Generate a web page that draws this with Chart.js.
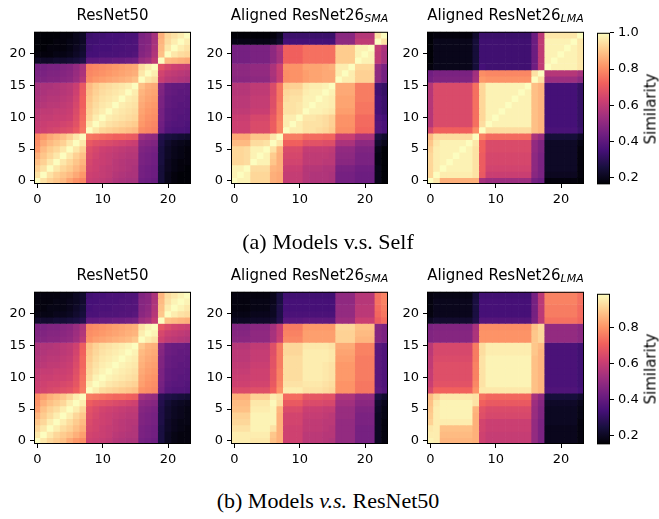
<!DOCTYPE html>
<html>
<head>
<meta charset="utf-8">
<script src="https://cdn.jsdelivr.net/npm/chart.js@4.4.0/dist/chart.umd.min.js"></script>
<style>
  body { margin: 0; background: #fff; }
  #fig { position: relative; width: 659px; height: 519px; overflow: hidden; background: #fff; font-family: "DejaVu Sans"; }
  #fig canvas { position: absolute; }
  .ttl { position: absolute; width: 300px; text-align: center; font-size: 15px; line-height: 15px; white-space: nowrap; color: #000; }
  .ttl i { font-size: 11px; position: relative; top: 2px; }
  .cap { position: absolute; width: 440px; text-align: center; font-family: "Liberation Serif"; font-size: 22px; line-height: 22px; white-space: nowrap; color: #000; }
  .cbl { position: absolute; font-size: 15px; line-height: 15px; white-space: nowrap; transform: translate(-50%, -50%) rotate(-90deg); color: #000; }
</style>
</head>
<body>
<div id="fig"></div>
<script>
// tick labels
const xTicks = [0, 10, 20];
const yTicks = [0, 5, 10, 15, 20];
const cbTicks = [0.2, 0.4, 0.6, 0.8, 1.0];
// colour limits of the two colorbars (top row, bottom row)
const rowLimits = [[0.165, 1.0], [0.152, 0.989]];

const titles = ['ResNet50', 'Aligned ResNet26', 'Aligned ResNet26'];
const subs = ['', 'SMA', 'LMA'];
const captions = ['(a) Models v.s. Self', '(b) Models <i>v.s.</i> ResNet50'];

// similarity x100, one row per layer on the y axis (row 0 = bottom)
const resnet50 = [
  [100,95,92,90,88,84,81,79, 62,61,60,59,57,56,55,55, 44,43,42, 25,20,18,17,17],
  [95,100,95,92,90,88,85,82, 63,62,61,60,58,57,56,56, 45,44,43, 25,20,18,17,17],
  [92,95,100,96,93,91,88,85, 64,63,61,60,59,58,57,56, 45,44,43, 25,21,19,18,17],
  [89,92,96,100,96,93,90,87, 65,63,62,61,59,58,57,57, 46,45,44, 26,21,19,18,18],
  [86,90,93,96,100,96,92,89, 66,64,62,61,60,59,58,58, 46,45,44, 26,22,20,19,18],
  [82,88,91,93,96,100,96,92, 67,65,63,62,61,60,59,59, 47,46,45, 26,22,20,19,18],
  [80,85,88,90,92,96,100,96, 70,68,67,66,65,64,63,62, 49,48,47, 27,23,21,20,19],
  [79,82,85,87,89,92,96,100, 76,75,74,73,72,72,71,70, 53,51,50, 28,26,25,24,23],
  [62,63,64,65,66,67,70,76, 100,96,93,92,91,90,89,88, 80,79,78, 43,38,37,37,36],
  [61,62,63,63,64,65,68,75, 96,100,97,95,94,93,92,91, 82,80,79, 44,39,38,38,37],
  [60,61,61,62,62,63,67,74, 93,97,100,97,96,95,94,93, 83,81,80, 45,40,39,38,38],
  [59,60,60,61,61,62,66,73, 92,95,97,100,97,96,95,94, 84,82,81, 45,40,39,39,38],
  [57,58,59,59,60,61,65,72, 91,94,96,97,100,97,96,95, 85,83,82, 46,41,40,39,39],
  [56,57,58,58,59,60,64,72, 90,93,95,96,97,100,97,96, 86,84,83, 46,41,40,40,39],
  [55,56,57,57,58,59,63,71, 89,92,94,95,96,97,100,97, 87,85,84, 47,42,41,40,40],
  [55,56,56,57,58,59,62,70, 88,91,93,94,95,96,97,100, 89,86,85, 48,42,41,41,40],
  [47,47,48,48,49,50,53,58, 80,82,83,84,85,86,87,89, 100,96,94, 62,59,58,57,56],
  [46,46,47,47,48,49,52,56, 79,80,81,82,83,84,85,86, 96,100,97, 64,61,60,59,58],
  [45,45,46,46,47,48,51,55, 78,79,80,81,82,83,84,85, 94,97,100, 68,65,63,62,61],
  [22,22,22,23,23,24,25,27, 40,40,41,41,42,42,43,44, 52,54,60, 100,88,87,86,85],
  [18,18,18,19,19,20,22,24, 35,35,36,36,36,37,37,38, 48,50,57, 89,100,96,94,93],
  [17,17,18,18,18,19,21,23, 34,35,35,35,36,36,37,37, 47,49,56, 88,96,100,97,95],
  [17,17,17,18,18,19,20,22, 34,34,35,35,35,36,36,37, 47,48,55, 87,94,97,100,97],
  [17,17,17,17,18,18,20,22, 33,34,34,35,35,35,36,36, 46,48,55, 86,93,95,97,100]
];

const smaSelf = [
  [100,98,98, 93,93,93, 86, 85, 61,61,61, 58,57,57,57,56, 45,45,45, 43,43,43, 20,17],
  [98,100,98, 93,93,93, 86, 85, 61,61,61, 58,57,57,57,56, 45,45,45, 43,43,43, 20,17],
  [98,98,100, 94,94,94, 87, 86, 62,62,62, 58,58,58,57,57, 46,46,46, 44,44,44, 20,17],
  [93,93,94, 100,98,98, 90, 86, 64,64,64, 60,60,60,59,59, 49,49,49, 46,46,46, 19,17],
  [93,93,94, 98,100,98, 91, 86, 65,65,65, 60,60,60,60,59, 50,50,50, 46,46,46, 19,17],
  [93,93,94, 98,98,100, 95, 87, 66,66,66, 61,61,61,61,60, 51,51,51, 47,47,47, 20,17],
  [88,88,88, 94,94,95, 100, 96, 72,72,72, 68,68,68,67,67, 56,56,56, 50,50,50, 23,20],
  [85,85,85, 90,90,90, 96, 100, 77,77,77, 74,74,74,73,73, 62,62,62, 56,56,56, 26,23],
  [63,63,63, 66,66,66, 71, 79, 100,97,97, 95,95,94,93,91, 80,80,80, 73,73,73, 38,36],
  [63,63,63, 66,66,66, 71, 79, 97,100,97, 95,95,95,94,92, 81,81,81, 74,74,74, 38,36],
  [62,62,62, 65,65,65, 70, 78, 97,97,100, 96,96,95,94,92, 81,81,81, 74,74,74, 37,35],
  [60,60,60, 62,62,62, 68, 77, 95,95,96, 100,98,98,97,96, 83,83,83, 76,76,76, 35,33],
  [59,59,59, 61,61,61, 67, 77, 95,95,96, 98,100,98,98,97, 84,84,84, 76,76,76, 35,33],
  [59,59,59, 61,61,61, 67, 76, 94,95,95, 98,98,100,98,97, 84,84,84, 77,77,77, 35,33],
  [58,58,58, 60,60,60, 66, 76, 93,94,94, 97,98,98,100,98, 85,85,85, 77,77,77, 34,32],
  [58,58,58, 60,60,60, 66, 76, 91,92,92, 96,97,97,98,100, 85,85,85, 77,77,77, 34,32],
  [49,49,49, 50,50,50, 55, 62, 80,81,81, 83,84,84,85,85, 100,97,97, 92,92,92, 50,45],
  [50,50,50, 51,51,51, 56, 62, 80,81,81, 83,84,84,85,85, 97,100,97, 92,92,92, 50,45],
  [50,50,50, 51,51,51, 56, 63, 81,81,81, 84,84,84,85,86, 97,97,100, 93,93,93, 51,46],
  [45,45,45, 46,46,46, 50, 55, 72,72,72, 75,75,75,75,75, 91,91,91, 100,98,98, 60,55],
  [45,45,45, 46,46,46, 50, 55, 72,72,72, 75,75,75,75,75, 91,91,91, 98,100,98, 60,55],
  [45,45,45, 46,46,46, 50, 56, 72,72,72, 75,75,75,75,75, 91,91,91, 98,98,100, 61,56],
  [19,19,19, 19,19,19, 20, 23, 35,35,35, 35,35,35,35,35, 50,50,50, 60,60,60, 100,95],
  [17,17,17, 17,17,17, 18, 21, 33,33,33, 33,33,33,33,33, 49,49,49, 58,58,58, 95,100]
];

const lmaSelf = [
  [100,96, 86,86,86,86,86, 86, 55,53,53,53,53,53,53,53, 45,43, 18,18,18,18,18, 17],
  [93,100, 97,97,97,97,97, 95, 70,62,62,62,62,62,62,62, 49,46, 21,21,21,21,21, 18],
  [93,97, 100,98,98,98,98, 95, 71,64,64,64,64,64,64,64, 50,46, 22,22,22,22,22, 18],
  [93,97, 98,100,98,98,98, 95, 71,65,65,65,65,65,65,65, 50,46, 22,22,22,22,22, 18],
  [93,97, 98,98,100,98,98, 95, 71,65,65,65,65,65,65,65, 50,46, 22,22,22,22,22, 18],
  [92,97, 98,98,98,100,98, 95, 72,66,66,66,66,66,66,66, 51,47, 22,22,22,22,22, 18],
  [90,96, 98,98,98,98,100, 96, 72,66,66,66,66,66,66,66, 51,47, 22,22,22,22,22, 19],
  [88,94, 94,94,94,94,94, 100, 78,74,74,74,74,74,74,74, 56,52, 25,25,25,25,25, 22],
  [65,72, 72,72,72,72,72, 80, 100,94,94,94,94,94,94,94, 89,87, 36,36,36,36,36, 33],
  [58,66, 66,66,66,66,66, 75, 94,100,98,98,98,98,98,98, 89,87, 35,35,35,35,35, 32],
  [58,66, 66,66,66,66,66, 75, 93,98,100,98,98,98,98,98, 89,87, 35,35,35,35,35, 32],
  [58,66, 66,66,66,66,66, 75, 93,98,98,100,98,98,98,98, 89,87, 35,35,35,35,35, 32],
  [58,66, 66,66,66,66,66, 75, 93,98,98,98,100,98,98,98, 89,87, 35,35,35,35,35, 32],
  [58,66, 66,66,66,66,66, 75, 93,98,98,98,98,100,98,98, 89,87, 35,35,35,35,35, 32],
  [58,66, 66,66,66,66,66, 75, 93,98,98,98,98,98,100,98, 89,87, 35,35,35,35,35, 32],
  [58,66, 66,66,66,66,66, 75, 93,98,98,98,98,98,98,100, 89,87, 35,35,35,35,35, 32],
  [45,47, 47,47,47,47,47, 55, 82,81,81,81,81,81,81,81, 100,95, 53,53,53,53,53, 50],
  [44,46, 46,46,46,46,46, 54, 80,79,79,79,79,79,79,79, 95,100, 58,58,58,58,58, 55],
  [18,20, 20,20,20,20,20, 25, 35,34,34,34,34,34,34,34, 44,60, 100,98,98,98,98, 96],
  [17,20, 20,20,20,20,20, 25, 34,34,34,34,34,34,34,34, 43,60, 98,100,98,98,98, 96],
  [17,20, 20,20,20,20,20, 25, 34,34,34,34,34,34,34,34, 43,60, 98,98,100,98,98, 96],
  [17,20, 20,20,20,20,20, 25, 34,34,34,34,34,34,34,34, 43,60, 98,98,98,100,98, 96],
  [17,20, 20,20,20,20,20, 25, 34,34,34,34,34,34,34,34, 43,60, 98,98,98,98,100, 96],
  [17,18, 18,18,18,18,18, 23, 33,33,33,33,33,33,33,33, 43,59, 96,96,96,96,96, 100]
];

// x = aligned model layer, y = ResNet50 layer
const smaVsR50 = [
  [96,96,96, 95,95,95, 88, 85, 62,62,62, 58,58,58,57,56, 50,50,50, 44,44,44, 20,17],
  [96,96,96, 96,96,96, 89, 85, 62,62,62, 58,58,58,57,57, 50,50,50, 44,44,44, 20,17],
  [94,94,94, 97,97,97, 94, 85, 62,62,62, 59,59,59,58,57, 50,50,50, 44,44,44, 20,17],
  [92,92,92, 97,97,97, 97, 85, 63,63,63, 59,59,59,58,58, 50,50,50, 45,45,45, 20,17],
  [91,91,91, 97,97,97, 97, 85, 63,63,63, 60,60,60,59,58, 51,51,51, 45,45,45, 20,18],
  [88,88,88, 96,96,96, 97, 86, 65,65,65, 61,61,61,60,60, 51,51,51, 46,46,46, 21,18],
  [87,87,87, 95,95,95, 98, 93, 69,69,69, 65,65,65,64,64, 53,53,53, 48,48,48, 22,19],
  [85,85,85, 91,91,91, 96, 94, 73,73,73, 68,68,68,67,67, 55,55,55, 50,50,50, 25,22],
  [65,65,65, 66,66,66, 71, 80, 96,96,96, 94,94,94,93,92, 80,80,80, 75,75,75, 39,37],
  [62,62,62, 63,63,63, 69, 78, 94,94,94, 95,95,95,94,93, 80,80,80, 75,75,75, 38,36],
  [61,61,61, 62,62,62, 68, 77, 93,93,93, 96,96,96,95,94, 81,81,81, 76,76,76, 38,36],
  [60,60,60, 62,62,62, 68, 77, 93,93,93, 96,96,96,95,94, 81,81,81, 76,76,76, 38,36],
  [59,59,59, 61,61,61, 67, 76, 93,93,93, 96,96,96,95,94, 81,81,81, 76,76,76, 38,36],
  [58,58,58, 60,60,60, 67, 76, 93,93,93, 96,96,96,96,95, 82,82,82, 76,76,76, 38,36],
  [58,58,58, 60,60,60, 66, 76, 92,92,92, 96,96,96,96,95, 83,83,83, 77,77,77, 38,36],
  [57,57,57, 59,59,59, 66, 76, 92,92,92, 95,95,95,95,94, 84,84,84, 77,77,77, 38,36],
  [48,48,48, 49,49,49, 54, 61, 78,78,78, 82,82,82,82,82, 91,91,91, 86,86,86, 47,45],
  [47,47,47, 49,49,49, 54, 60, 77,77,77, 82,82,82,82,82, 91,91,91, 87,87,87, 47,45],
  [46,46,46, 48,48,48, 53, 60, 76,76,76, 81,81,81,81,81, 92,92,92, 88,88,88, 47,45],
  [20,20,20, 21,21,21, 22, 27, 38,38,38, 39,39,39,39,39, 52,52,52, 61,61,61, 70,73],
  [18,18,18, 19,19,19, 20, 26, 35,35,35, 35,35,35,35,35, 50,50,50, 58,58,58, 72,75],
  [17,17,17, 18,18,18, 20, 26, 34,34,34, 34,34,34,34,34, 50,50,50, 58,58,58, 73,76],
  [17,17,17, 18,18,18, 19, 25, 34,34,34, 34,34,34,34,34, 49,49,49, 57,57,57, 74,77],
  [17,17,17, 17,17,17, 19, 25, 33,33,33, 33,33,33,33,33, 49,49,49, 57,57,57, 74,77]
];

const lmaVsR50 = [
  [97,96, 86,86,86,86,86, 85, 62,60,60,60,60,60,60,60, 50,45, 19,19,19,19,19, 17],
  [96,96, 87,87,87,87,87, 85, 62,60,60,60,60,60,60,60, 50,45, 19,19,19,19,19, 17],
  [95,96, 88,88,88,88,88, 85, 63,61,61,61,61,61,61,61, 50,45, 19,19,19,19,19, 17],
  [91,96, 96,96,96,96,96, 85, 63,61,61,61,61,61,61,61, 50,45, 20,20,20,20,20, 17],
  [90,96, 97,97,97,97,97, 85, 66,64,64,64,64,64,64,64, 51,46, 20,20,20,20,20, 18],
  [89,96, 97,97,97,97,97, 86, 67,65,65,65,65,65,65,65, 51,46, 20,20,20,20,20, 18],
  [88,95, 97,97,97,97,97, 94, 71,69,69,69,69,69,69,69, 52,47, 21,21,21,21,21, 19],
  [87,92, 95,95,95,95,95, 94, 74,72,72,72,72,72,72,72, 54,49, 24,24,24,24,24, 22],
  [64,71, 71,71,71,71,71, 80, 95,95,95,95,95,95,95,95, 88,86, 36,36,36,36,36, 34],
  [61,67, 67,67,67,67,67, 78, 94,97,97,97,97,97,97,97, 88,86, 35,35,35,35,35, 33],
  [60,66, 66,66,66,66,66, 77, 94,97,97,97,97,97,97,97, 88,86, 35,35,35,35,35, 33],
  [60,66, 66,66,66,66,66, 77, 94,97,97,97,97,97,97,97, 88,86, 35,35,35,35,35, 33],
  [59,66, 66,66,66,66,66, 77, 94,97,97,97,97,97,97,97, 88,86, 35,35,35,35,35, 33],
  [59,65, 65,65,65,65,65, 76, 94,97,97,97,97,97,97,97, 88,86, 35,35,35,35,35, 33],
  [58,64, 64,64,64,64,64, 76, 93,96,96,96,96,96,96,96, 89,86, 35,35,35,35,35, 33],
  [58,64, 64,64,64,64,64, 76, 93,96,96,96,96,96,96,96, 89,87, 35,35,35,35,35, 33],
  [46,47, 47,47,47,47,47, 55, 80,80,80,80,80,80,80,80, 89,92, 50,50,50,50,50, 48],
  [46,47, 47,47,47,47,47, 55, 80,80,80,80,80,80,80,80, 89,92, 50,50,50,50,50, 48],
  [45,46, 46,46,46,46,46, 54, 79,79,79,79,79,79,79,79, 88,92, 50,50,50,50,50, 48],
  [20,22, 22,22,22,22,22, 26, 37,37,37,37,37,37,37,37, 45,58, 74,74,74,74,74, 72],
  [17,19, 19,19,19,19,19, 25, 34,34,34,34,34,34,34,34, 44,58, 76,76,76,76,76, 73],
  [17,19, 19,19,19,19,19, 25, 34,34,34,34,34,34,34,34, 44,58, 76,76,76,76,76, 73],
  [17,19, 19,19,19,19,19, 25, 34,34,34,34,34,34,34,34, 44,58, 77,77,77,77,77, 74],
  [17,18, 18,18,18,18,18, 24, 33,33,33,33,33,33,33,33, 44,58, 77,77,77,77,77, 74]
];

const grid = [
  [resnet50, smaSelf, lmaSelf],
  [resnet50, smaVsR50, lmaVsR50]
];

// magma colormap stops
const MAGMA = [[0,0,4],[24,15,62],[69,16,119],[114,31,129],[159,47,127],
               [205,64,113],[241,96,93],[253,149,103],[254,202,141],[252,253,191]];

function magma(v, lim) {
  let t = (v - lim[0]) / (lim[1] - lim[0]);
  t = Math.max(0, Math.min(1, t)) * (MAGMA.length - 1);
  const i = Math.min(MAGMA.length - 2, Math.floor(t)), f = t - i;
  const a = MAGMA[i], b = MAGMA[i + 1];
  return 'rgb(' + [0, 1, 2].map(k => Math.round(a[k] + (b[k] - a[k]) * f)).join(',') + ')';
}

Chart.defaults.font.family = 'DejaVu Sans';

const PX = [34, 231, 427], PY = [28, 288], PW = 157, PH = 156;
const YW = 34, XH = 26, PAD = 8;
const CBX = 597, CBW = 13, CBY = [29, 290], CBH = [159, 158];
const tickFont = {family: 'DejaVu Sans', size: 13};
const fig = document.getElementById('fig');

function addCanvas(left, top, w, h) {
  const c = document.createElement('canvas');
  c.width = w; c.height = h;
  c.style.left = left + 'px'; c.style.top = top + 'px';
  c.style.width = w + 'px'; c.style.height = h + 'px';
  fig.appendChild(c);
  return c;
}

function addDiv(cls, html, left, top) {
  const d = document.createElement('div');
  d.className = cls;
  d.innerHTML = html;
  d.style.left = left + 'px'; d.style.top = top + 'px';
  fig.appendChild(d);
}

// black box around the plot area
const frame = {
  id: 'frame',
  afterDraw(chart) {
    const a = chart.chartArea, ctx = chart.ctx;
    ctx.save();
    ctx.strokeStyle = '#000';
    ctx.lineWidth = 1;
    ctx.strokeRect(a.left + 0.5, a.top + 0.5, a.right - a.left - 1, a.bottom - a.top - 1);
    ctx.restore();
  }
};

// colorbar gradient
const cbFill = {
  id: 'cbFill',
  beforeDatasetsDraw(chart) {
    const a = chart.chartArea, ctx = chart.ctx;
    const g = ctx.createLinearGradient(0, a.bottom, 0, a.top);
    MAGMA.forEach((c, i) => g.addColorStop(i / (MAGMA.length - 1), 'rgb(' + c.join(',') + ')'));
    ctx.save();
    ctx.fillStyle = g;
    ctx.fillRect(a.left, a.top, a.right - a.left, a.bottom - a.top);
    ctx.restore();
  }
};

function tickAxis(pos, list, extra) {
  return Object.assign({
    type: 'linear',
    position: pos,
    grid: {drawOnChartArea: false, color: '#000', tickLength: 4, tickWidth: 1, offset: false},
    border: {display: false},
    ticks: {color: '#000', font: tickFont, padding: 4, autoSkip: false, maxRotation: 0},
    afterBuildTicks: s => { s.ticks = list.filter(v => v >= s.min && v <= s.max).map(v => ({value: v})); }
  }, extra);
}

function heatmap(canvas, m, lim) {
  const pts = [];
  m.forEach((row, y) => row.forEach((v, x) => pts.push({x: x, y: [y - 0.5, y + 0.5], v: v / 100})));
  new Chart(canvas, {
    type: 'bar',
    data: {
      datasets: [{
        data: pts,
        backgroundColor: c => magma(c.raw.v, lim),
        borderWidth: 0,
        barPercentage: 1,
        categoryPercentage: 1
      }]
    },
    options: {
      responsive: false,
      animation: false,
      events: [],
      layout: {padding: {top: PAD, right: PAD}},
      plugins: {legend: {display: false}, tooltip: {enabled: false}},
      scales: {
        x: tickAxis('bottom', xTicks, {min: -0.5, max: 23.5, offset: false, afterFit: s => { s.height = XH; }}),
        y: tickAxis('left', yTicks, {min: -0.5, max: 23.5, afterFit: s => { s.width = YW; }})
      }
    },
    plugins: [frame]
  });
}

function colorbar(canvas, lim) {
  const y = tickAxis('right', cbTicks, {min: lim[0], max: lim[1], afterFit: s => { s.width = 50; }});
  y.ticks.callback = v => v.toFixed(1);
  new Chart(canvas, {
    type: 'bar',
    data: {labels: [''], datasets: []},
    options: {
      responsive: false,
      animation: false,
      events: [],
      layout: {padding: {top: PAD, bottom: PAD}},
      plugins: {legend: {display: false}, tooltip: {enabled: false}},
      scales: {x: {display: false}, y: y}
    },
    plugins: [cbFill, frame]
  });
}

grid.forEach((row, r) => {
  row.forEach((m, c) => {
    heatmap(addCanvas(PX[c] - YW, PY[r] - PAD, YW + PW + PAD, PAD + PH + XH), m, rowLimits[r]);
    const t = titles[c] + (subs[c] ? '<i>' + subs[c] + '</i>' : '');
    addDiv('ttl', t, PX[c] + PW / 2 - 150, PY[r] - 20);
  });
  colorbar(addCanvas(CBX, CBY[r] - PAD, CBW + 50, CBH[r] + 2 * PAD), rowLimits[r]);
  addDiv('cbl', 'Similarity', 651, CBY[r] + CBH[r] / 2);
});

addDiv('cap', captions[0], 328 - 220, 230.5);
addDiv('cap', captions[1], 328 - 220, 489.5);
</script>
</body>
</html>
